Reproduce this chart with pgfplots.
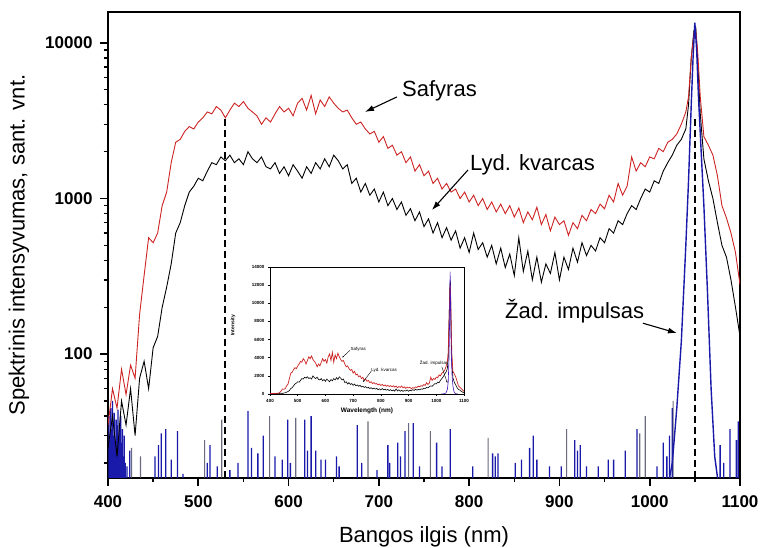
\documentclass[border=0pt]{standalone}
\usepackage{pgfplots}
\pgfplotsset{compat=1.18}
\usepackage{pgfplotstable}
\usepackage{fontspec}
\setmainfont{Liberation Sans}
\usetikzlibrary{arrows.meta}
\definecolor{cred}{RGB}{205,35,35}
\definecolor{cblue}{RGB}{25,25,170}
\definecolor{cgray}{RGB}{70,70,95}

\pgfplotstableread{
x y
400 35
405 60
410 45
415 80
420 55
425 85
430 70
435 180
440 320
445 560
450 520
455 600
460 900
465 1100
470 1700
475 2300
480 2400
485 2700
490 2900
495 2800
500 3100
505 3300
510 3600
515 3500
520 3900
525 3700
530 3300
535 3700
540 4100
545 3900
550 4200
555 3800
560 3600
565 3400
570 3000
575 3300
580 3100
585 3500
590 3900
595 3600
600 3800
605 3400
610 4100
615 4400
620 3700
625 4600
630 3500
635 4300
640 3900
645 4500
650 4100
655 3800
660 3600
665 3700
670 3300
675 3000
680 3100
685 2800
690 2600
695 2700
700 2300
705 2500
710 2100
715 2200
720 1900
725 2000
730 1700
735 1850
740 1500
745 1650
750 1400
755 1500
760 1250
765 1350
770 1150
775 1250
780 1100
785 1150
790 1000
795 1100
800 950
805 1050
810 900
815 1000
820 850
825 950
830 820
835 920
840 800
845 900
850 760
855 870
860 700
865 820
870 730
875 880
880 680
885 790
890 620
895 760
900 680
905 720
910 580
915 700
920 640
925 780
930 720
935 850
940 800
945 920
950 860
955 1050
960 950
965 1250
970 1050
975 1200
980 1850
985 1500
990 1700
995 1600
1000 1850
1005 1800
1010 2100
1015 2000
1020 2300
1025 2400
1030 2600
1035 3000
1040 3600
1043 4500
1046 8000
1049 11500
1051 12000
1053 9000
1056 4500
1060 2500
1065 2200
1070 1900
1075 1400
1080 900
1085 750
1090 600
1095 450
1100 280
}\redtab

\pgfplotstableread{
x y
400 25
405 40
410 22
415 50
420 35
425 60
430 30
435 70
440 90
445 60
450 110
455 130
460 200
465 270
470 380
475 600
480 700
485 900
490 1100
495 1200
500 1350
505 1300
510 1500
515 1700
520 1650
525 1850
530 1750
535 1900
540 1700
545 1800
550 1650
555 2000
560 1800
565 1700
570 1850
575 1600
580 1550
585 1700
590 1450
595 1600
600 1400
605 1650
610 1500
615 1350
620 1600
625 1450
630 1700
635 1550
640 1800
645 1600
650 1900
655 1750
660 1550
665 1650
670 1250
675 1350
680 1100
685 1250
690 1050
695 1150
700 950
705 1100
710 900
715 1000
720 850
725 950
730 780
735 860
740 720
745 820
750 660
755 740
760 600
765 700
770 560
775 650
780 540
785 620
790 480
795 560
800 450
805 600
810 470
815 520
820 420
825 500
830 380
835 480
840 360
845 440
850 320
855 560
860 340
865 460
870 300
875 420
880 290
885 380
890 330
895 450
900 300
905 420
910 350
915 480
920 390
925 520
930 430
935 500
940 460
945 560
950 520
955 640
960 600
965 720
970 680
975 800
980 900
985 850
990 1000
995 1150
1000 1100
1005 1300
1010 1250
1015 1500
1020 1700
1025 1900
1030 2200
1035 2400
1040 2800
1043 4000
1046 8000
1049 12000
1051 12500
1053 8000
1056 3500
1060 1800
1065 1300
1070 1000
1075 700
1080 500
1085 420
1090 300
1095 200
1100 130
}\blacktab

\pgfplotstableread{
x y
1018 12
1025 20
1030 45
1035 120
1040 500
1043 1300
1046 4000
1048 8000
1050 13500
1052 9000
1054 4500
1057 2000
1060 900
1064 250
1068 60
1072 22
1078 12
}\bluetab

\pgfplotstableread{
x y
401 40
402 28
403 45
404 33
405 50
406 30
407 42
408 26
409 38
410 35
411 44
412 29
413 36
414 40
415 27
416 33
417 22
418 30
419 20
421 19
424 24
452 22
456 26
459 31
464 33
470 21
477 32
483 17
510 20
513 26
521 19
535 18
544 20
555 43
559 25
566 23
572 30
585 22
593 21
599 38
602 20
618 38
621 24
625 40
630 24
636 21
641 21
653 22
656 19
676 35
681 20
698 18
710 26
712 20
721 27
724 22
729 32
738 36
745 19
764 27
770 19
779 33
804 19
826 23
829 22
832 23
851 20
858 21
867 25
871 30
875 21
889 19
902 19
917 28
920 24
923 26
930 19
943 19
954 21
960 21
973 24
986 33
1008 19
1015 27
1019 22
1022 30
1025 45
1078 26
1082 20
1089 33
1096 28
1098 37
}\spikeblue

\pgfplotstableread{
x y
426 25
436 22
507 28
526 38
579 40
608 39
688 37
733 36
757 32
821 29
908 33
989 31
995 40
1026 50
}\spikegray

\begin{document}
\begin{tikzpicture}[x=1pt,y=1pt]
\useasboundingbox (0,0) rectangle (763,548);
\begin{axis}[
  at={(108pt,70pt)}, anchor=south west,
  scale only axis, width=632pt, height=466pt,
  ymode=log, xmin=400, xmax=1100, ymin=16, ymax=15800,
  xtick={400,500,...,1100}, minor xtick={450,550,...,1050},
  ytick={100,1000,10000}, yticklabels={100,1000,10000},
  minor ytick={20,30,40,50,60,70,80,90,200,300,400,500,600,700,800,900,2000,3000,4000,5000,6000,7000,8000,9000},
  tick pos=left, tick align=outside,
  major tick length=8pt, minor tick length=4.5pt,
  major tick style={black, line width=1.7pt},
  minor tick style={black, line width=1.3pt},
  axis line style={line width=2pt},
  /pgf/number format/1000 sep={},
  /pgf/number format/assume math mode=true,
  tick label style={font=\fontsize{17}{17}\selectfont\bfseries},
  xticklabel shift=6pt,
  yticklabel shift=4pt,
  xlabel={Bangos ilgis (nm)},
  ylabel={Spektrinis intensyvumas, sant. vnt.},
  label style={font=\fontsize{22}{22}\selectfont},
  xlabel style={at={(axis description cs:0.5,-0.127)}, anchor=center},
  ylabel style={at={(axis description cs:-0.141,0.5)}, anchor=center},
]
\addplot[ybar, bar shift=0pt, bar width=1.3pt, fill=cblue, draw=none] table[x=x,y=y] {\spikeblue};
\addplot[ybar, bar shift=0pt, bar width=1.1pt, fill=cgray, draw=none, fill opacity=0.8] table[x=x,y=y] {\spikegray};
\addplot[black, line width=0.9pt] table[x=x,y=y] {\blacktab};
\addplot[cred, line width=0.9pt] table[x=x,y=y] {\redtab};
\addplot[cblue, line width=1.4pt] table[x=x,y=y] {\bluetab};
\addplot[black, line width=2pt, dash pattern=on 7pt off 4pt] coordinates {(530,16) (530,3300)};
\addplot[black, line width=2pt, dash pattern=on 7pt off 4pt] coordinates {(1050,16) (1050,3400)};
\node[anchor=base west, inner sep=0pt, font=\fontsize{22}{22}\selectfont] at (axis cs:725.6,4495) {Safyras};
\draw[-{Latex[length=9pt,width=6pt]}, line width=1.1pt] (axis cs:720,4495) -- (axis cs:684.6,3600);
\node[anchor=base west, inner sep=0pt, font=\fontsize{22}{22}\selectfont] at (axis cs:800.9,1525) {Lyd. kvarcas};
\draw[-{Latex[length=9pt,width=6pt]}, line width=1.1pt] (axis cs:798.7,1525) -- (axis cs:758.8,843);
\node[anchor=base west, inner sep=0pt, font=\fontsize{22}{22}\selectfont] at (axis cs:839.7,170) {Žad. impulsas};
\draw[-{Latex[length=9pt,width=6pt]}, line width=1.1pt] (axis cs:992.5,158) -- (axis cs:1030.2,136.5);
\end{axis}

\begin{axis}[
  at={(270pt,154pt)}, anchor=south west,
  scale only axis, width=194pt, height=127pt,
  axis background/.style={fill=white},
  xmin=400, xmax=1100, ymin=0, ymax=14000,
  xtick={400,500,...,1100}, ytick={0,2000,...,14000},
  scaled y ticks=false,
  /pgf/number format/1000 sep={},
  /pgf/number format/assume math mode=true,
  tick pos=left, tick align=outside,
  major tick length=2pt,
  major tick style={black, line width=0.5pt},
  axis line style={line width=0.6pt},
  tick label style={font=\fontsize{4.5}{5}\selectfont\bfseries},
  xlabel={Wavelength (nm)}, ylabel={Intensity},
  xlabel style={font=\fontsize{6.5}{7}\selectfont\bfseries, at={(axis description cs:0.5,-0.13)}, anchor=center},
  ylabel style={font=\fontsize{5}{6}\selectfont\bfseries, at={(axis description cs:-0.19,0.54)}, anchor=center},
]
\addplot[black, line width=0.6pt] table[x=x,y=y] {\blacktab};
\addplot[cred, line width=0.7pt] table[x=x,y=y] {\redtab};
\addplot[cblue!80!magenta, line width=0.6pt] table[x=x,y=y] {\bluetab};
\node[anchor=west, inner sep=0pt, font=\fontsize{4.5}{5}\selectfont] at (axis cs:690,4900) {Safyras};
\draw[-{Latex[length=2pt,width=1.5pt]}, line width=0.4pt] (axis cs:688,4800) -- (axis cs:660,4000);
\node[anchor=west, inner sep=0pt, font=\fontsize{4.5}{5}\selectfont] at (axis cs:765,2650) {Lyd. kvarcas};
\draw[-{Latex[length=2pt,width=1.5pt]}, line width=0.4pt] (axis cs:765,2500) -- (axis cs:735,1300);
\node[anchor=west, inner sep=0pt, font=\fontsize{4.5}{5}\selectfont] at (axis cs:940,3400) {Žad. impulsas};
\draw[-{Latex[length=2pt,width=1.5pt]}, line width=0.4pt] (axis cs:1020,3000) -- (axis cs:1040,1200);
\end{axis}
\end{tikzpicture}
\end{document}
